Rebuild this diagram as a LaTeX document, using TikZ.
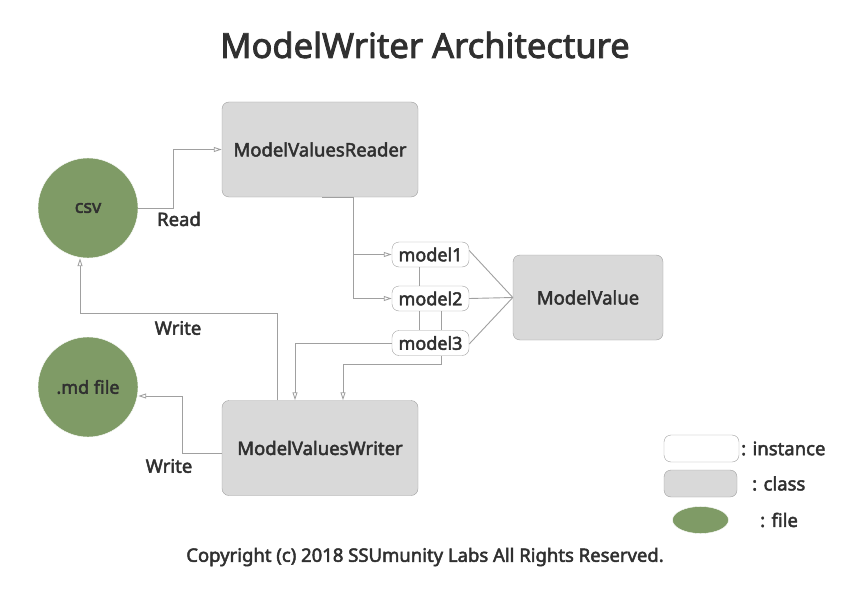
\documentclass[tikz,border=0pt]{standalone}
\usepackage{fontspec}
\setmainfont{Noto Sans}[FakeBold=2.5]
\usepackage{tikz}
\usetikzlibrary{shapes.geometric, arrows.meta, positioning, calc}
\usepackage{xcolor}
\definecolor{ClassGray}{HTML}{D9D9D9}
\definecolor{LineGray}{HTML}{A0A0A0}
\definecolor{FileGreen}{HTML}{7F9B66}
\definecolor{TextDark}{HTML}{303030}
\tikzset{
    classbox/.style={
        draw=LineGray,
        fill=ClassGray,
        rounded corners=7pt,
        minimum width=196pt,
        minimum height=95pt,
        text=TextDark,
        font=\fontsize{18.5}{22}\selectfont,
        align=center
    },
    instbox/.style={
        draw=LineGray,
        fill=white,
        rounded corners=7pt,
        minimum width=77pt,
        minimum height=25pt,
        inner sep=0pt,
        text=TextDark,
        font=\fontsize{18}{21}\selectfont
    },
    filenode/.style={
        draw=white,
        fill=FileGreen,
        circle,
        minimum size=100pt,
        text=TextDark,
        font=\fontsize{18}{21}\selectfont
    },
    conn/.style={
        -{Triangle[open, length=8pt, width=5pt]},
        LineGray,
        line width=0.9pt
    },
    plainline/.style={
        LineGray,
        line width=0.9pt
    },
    lbl/.style={
        text=TextDark,
        font=\fontsize{18.5}{22}\selectfont
    }
}
\begin{document}
\begin{tikzpicture}[x=1pt, y=-1pt]
    \useasboundingbox[fill=white] (0,0) rectangle (850,596);

    % Title
    \node[text=TextDark, font=\fontsize{34.5}{40}\selectfont] (title) at (425,45) {ModelWriter Architecture};

    % Classes
    \node[classbox] (reader) at (320,149.5) {ModelValuesReader};
    \node[classbox] (writer) at (320,448) {ModelValuesWriter};
    \node[classbox, minimum width=150pt, minimum height=85pt] (value) at (588,297.5) {ModelValue};

    % Files
    \node[filenode] (csv) at (88,208) {csv};
    \node[filenode] (md) at (88,387) {.md file};

    % Instances
    \node[instbox] (m1) at (430.5,254.5) {model1};
    \node[instbox] (m2) at (430.5,298.5) {model2};
    \node[instbox] (m3) at (430.5,343) {model3};

    % Read / write
    \draw[conn] (csv.east) -- ++(35,0) |- (reader.west);
    \node[lbl] (readlbl) at (179,219) {Read};
    \draw[conn] ([xshift=-43pt]writer.north) -- ++(0,-87) -| ([xshift=-8pt]csv.south);
    \node[lbl] (writelbl) at (178,328) {Write};
    \draw[conn] ([yshift=-5pt]writer.west) -- ++(-39,0) |- ([yshift=-9pt]md.east);
    \node[lbl] (writelblb) at (169,466) {Write};

    % Reader to instances
    \draw[plainline] ([xshift=2pt]reader.south) -- ([xshift=33pt]reader.south);
    \draw[conn] ([xshift=33pt]reader.south) |- (m1.west);
    \draw[conn] ([xshift=33pt]reader.south) |- (m2.west);

    % Between instances
    \draw[plainline] ([xshift=-11pt]m1.south) -- ([xshift=-11pt]m2.north);
    \draw[plainline] ([xshift=-11pt]m2.south) -- ([xshift=-11pt]m3.north);
    \draw[plainline] ([xshift=11pt]m2.south) -- ([xshift=11pt]m3.north);

    % Instances to writer
    \draw[conn] ([xshift=11pt]m3.south) -- ++(0,9) -| ([xshift=23pt]writer.north);
    \draw[conn] (m3.west) -| ([xshift=-25pt]writer.north);

    % Instances to class
    \draw[plainline] ([yshift=4pt]m1.east) -- (value.west);
    \draw[plainline] (m2.east) -- (value.west);
    \draw[plainline] ([yshift=-1pt]m3.east) -- (value.west);

    % Legend
    \node[instbox, minimum width=75pt, minimum height=27pt] (leginst) at (701.5,448.5) {};
    \node[lbl, anchor=west, inner sep=0pt] (leginsttxt) at (741,448.5) {: instance};
    \node[classbox, minimum width=73pt, minimum height=27pt] (legclass) at (700.5,483.5) {};
    \node[lbl, anchor=west, inner sep=0pt] (legclasstxt) at (752,483.5) {: class};
    \node[draw=white, fill=FileGreen, ellipse, minimum width=56pt, minimum height=27pt] (legfile) at (700.5,520) {};
    \node[lbl, anchor=west, inner sep=0pt] (legfiletxt) at (760,520) {: file};

    % Footer
    \node[text=TextDark, font=\fontsize{18.5}{22}\selectfont] (copyright) at (425,557) {Copyright (c) 2018 SSUmunity Labs All Rights Reserved.};
\end{tikzpicture}
\end{document}
